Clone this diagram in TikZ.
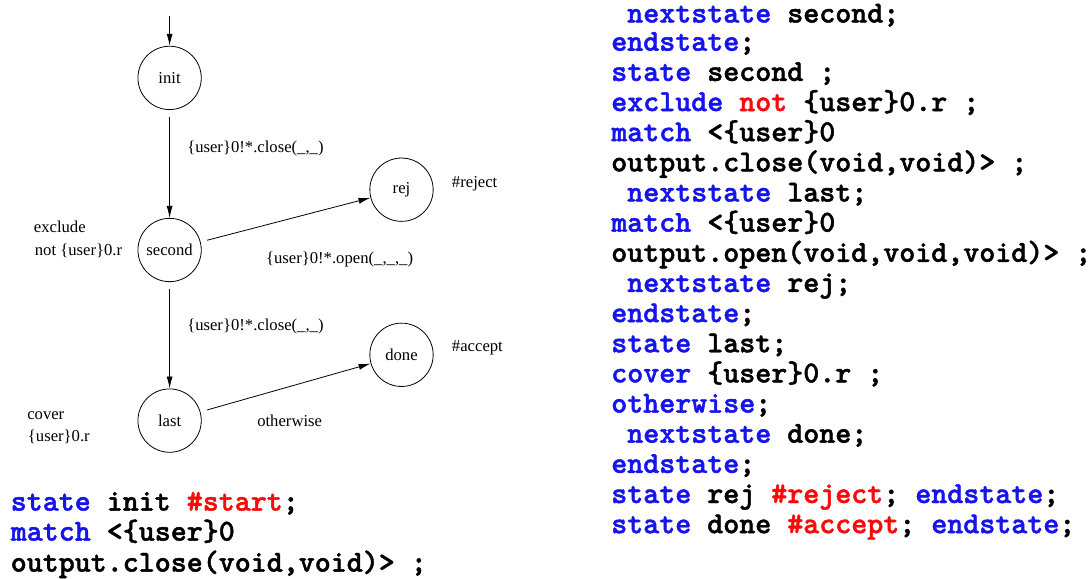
\documentclass[tikz,border=0pt]{standalone}
\usepackage{fontspec}
\setmainfont{Liberation Serif}
\newfontfamily\codefont{lmmonolt10-bold.otf}[FakeBold=1.5]
\usetikzlibrary{arrows.meta}
\definecolor{kwblue}{RGB}{20,20,235}
\definecolor{kwred}{RGB}{250,10,10}
\newcommand{\kw}[1]{\textcolor{kwblue}{#1}}
\newcommand{\tg}[1]{\textcolor{kwred}{#1}}
\begin{document}
\begin{tikzpicture}[x=0.75pt,y=-0.75pt,
  state/.style={circle,draw,line width=0.6pt,minimum size=47.5pt,inner sep=0pt,
    font=\fontsize{12.5}{14}\selectfont},
  trans/.style={line width=0.6pt,-{Latex[length=9pt,width=4.5pt]},shorten <=5pt},
  lbl/.style={anchor=base west,inner sep=0pt,font=\fontsize{12.5}{14}\selectfont},
  code/.style={anchor=base west,inner sep=0pt,text height=0.6em,text depth=0.2em,
    font=\codefont\fontsize{22.86}{24}\selectfont}]
\useasboundingbox (0,0) rectangle (1091,578);

% automaton
\node[state] (init)   at (169.6,77.9)  {init};
\node[state] (second) at (169.6,250)   {second};
\node[state] (last)   at (169.6,420.6) {last};
\node[state] (rej)    at (401.5,189.7) {rej};
\node[state] (done)   at (401.5,354.8) {done};
\coordinate (entry) at (169.6,15.6);

\draw[trans,shorten <=0pt] (entry) -- (init);
\draw[trans] (init) -- (second);
\draw[trans] (second) -- (last);
\draw[trans] (second) -- (rej);
\draw[trans] (last) -- (done);

% transition and state annotations
\node[lbl] (l1) at (187,152)   {\{user\}0!*.close(\_,\_)};
\node[lbl] (l2) at (265.8,263) {\{user\}0!*.open(\_,\_,\_)};
\node[lbl] (l3) at (187,330.4) {\{user\}0!*.close(\_,\_)};
\node[lbl] (l4) at (257,426.2) {otherwise};
\node[lbl] (a1) at (451.7,187.4) {\#reject};
\node[lbl] (a2) at (451.7,351)   {\#accept};
\node[lbl] (e1) at (33.6,232.4)  {exclude};
\node[lbl] (e2) at (34.6,255)    {not \{user\}0.r};
\node[lbl] (c1) at (27,419.3)    {cover};
\node[lbl] (c2) at (27.7,441.8)  {\{user\}0.r};

% source code, first part
\node[code] (p1) at (10.5,510.6) {\kw{state} init \tg{\#start};};
\node[code] (p2) at (10.5,540.6) {\kw{match} <\{user\}0};
\node[code] (p3) at (10.5,571.6) {output.close(void,void)> ;};

% source code, continued
\node[code] (r1)  at (627,22.5)  {\kw{nextstate} second;};
\node[code] (r2)  at (611,50.75) {\kw{endstate};};
\node[code] (r3)  at (611,80.9)  {\kw{state} second ;};
\node[code] (r4)  at (611,111.05){\kw{exclude} \tg{not} \{user\}0.r ;};
\node[code] (r5)  at (611,141.2) {\kw{match} <\{user\}0};
\node[code] (r6)  at (611,171.35){output.close(void,void)> ;};
\node[code] (r7)  at (627,201.5) {\kw{nextstate} last;};
\node[code] (r8)  at (611,231.65){\kw{match} <\{user\}0};
\node[code] (r9)  at (611,261.8) {output.open(void,void,void)> ;};
\node[code] (r10) at (627,291.95){\kw{nextstate} rej;};
\node[code] (r11) at (611,322.1) {\kw{endstate};};
\node[code] (r12) at (611,352.25){\kw{state} last;};
\node[code] (r13) at (611,382.4) {\kw{cover} \{user\}0.r ;};
\node[code] (r14) at (611,412.55){\kw{otherwise};};
\node[code] (r15) at (627,442.7) {\kw{nextstate} done;};
\node[code] (r16) at (611,472.85){\kw{endstate};};
\node[code] (r17) at (611,503)   {\kw{state} rej \tg{\#reject}; \kw{endstate};};
\node[code] (r18) at (611,533.15){\kw{state} done \tg{\#accept}; \kw{endstate};};
\end{tikzpicture}
\end{document}
